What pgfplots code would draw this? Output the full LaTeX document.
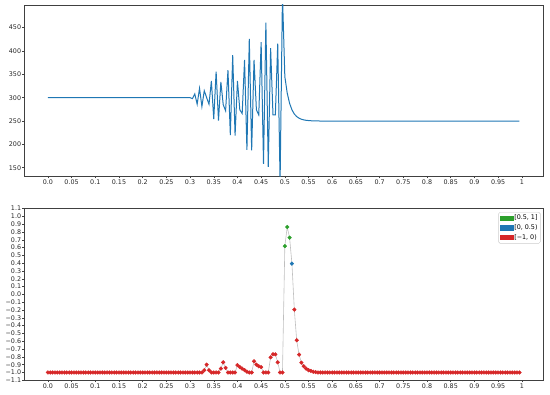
\documentclass[border=0pt]{standalone}
\usepackage{fontspec}
\setmainfont{DejaVu Sans}
\usepackage{pgfplots}
\usepackage{pgfplotstable}
\pgfplotsset{compat=1.18}
\definecolor{tabblue}{HTML}{1F77B4}
\definecolor{tabgreen}{HTML}{2CA02C}
\definecolor{tabred}{HTML}{D62728}
\definecolor{linegray}{HTML}{BFBFBF}
\pgfplotstableread{
x t b c
0.000 300 -1 r
0.005 300 -1 r
0.010 300 -1 r
0.015 300 -1 r
0.020 300 -1 r
0.025 300 -1 r
0.030 300 -1 r
0.035 300 -1 r
0.040 300 -1 r
0.045 300 -1 r
0.050 300 -1 r
0.055 300 -1 r
0.060 300 -1 r
0.065 300 -1 r
0.070 300 -1 r
0.075 300 -1 r
0.080 300 -1 r
0.085 300 -1 r
0.090 300 -1 r
0.095 300 -1 r
0.100 300 -1 r
0.105 300 -1 r
0.110 300 -1 r
0.115 300 -1 r
0.120 300 -1 r
0.125 300 -1 r
0.130 300 -1 r
0.135 300 -1 r
0.140 300 -1 r
0.145 300 -1 r
0.150 300 -1 r
0.155 300 -1 r
0.160 300 -1 r
0.165 300 -1 r
0.170 300 -1 r
0.175 300 -1 r
0.180 300 -1 r
0.185 300 -1 r
0.190 300 -1 r
0.195 300 -1 r
0.200 300 -1 r
0.205 300 -1 r
0.210 300 -1 r
0.215 300 -1 r
0.220 300 -1 r
0.225 300 -1 r
0.230 300 -1 r
0.235 300 -1 r
0.240 300 -1 r
0.245 300 -1 r
0.250 300 -1 r
0.255 300 -1 r
0.260 300 -1 r
0.265 300 -1 r
0.270 300 -1 r
0.275 300 -1 r
0.280 300 -1 r
0.285 300 -1 r
0.290 300 -1 r
0.295 300 -1 r
0.300 300 -1 r
0.305 298 -1 r
0.310 308 -1 r
0.315 286 -1 r
0.320 320 -1 r
0.325 281 -1 r
0.330 315 -0.97 r
0.335 300 -0.90 r
0.340 286 -0.97 r
0.345 336 -1 r
0.350 254 -1 r
0.355 356 -1 r
0.360 251 -1 r
0.365 334 -0.95 r
0.370 285 -0.87 r
0.375 272 -0.94 r
0.380 359 -1 r
0.385 220 -1 r
0.390 391 -1 r
0.395 219 -1 r
0.400 336 -0.905 r
0.405 274 -0.93 r
0.410 266 -0.95 r
0.415 381 -0.97 r
0.420 188 -0.99 r
0.425 426 -1 r
0.430 187 -1 r
0.435 381 -0.857 r
0.440 274 -0.90 r
0.445 263 -0.92 r
0.450 419 -0.93 r
0.455 158 -1 r
0.460 461 -1 r
0.465 152 -1 r
0.470 406 -0.805 r
0.475 263 -0.767 r
0.480 263 -0.767 r
0.485 416 -0.87 r
0.490 120 -1 r
0.495 520 -1 r
0.500 345 0.62 g
0.505 310 0.864 g
0.510 288 0.728 g
0.515 274 0.395 b
0.520 265 -0.194 r
0.525 259.6 -0.587 r
0.530 256 -0.771 r
0.535 253.8 -0.874 r
0.540 252.4 -0.92 r
0.545 251.5 -0.95 r
0.550 251 -0.97 r
0.555 250.6 -0.98 r
0.560 250.4 -0.99 r
0.565 250.2 -0.995 r
0.570 250.1 -1 r
0.575 250 -1 r
0.580 250 -1 r
0.585 250 -1 r
0.590 250 -1 r
0.595 250 -1 r
0.600 250 -1 r
0.605 250 -1 r
0.610 250 -1 r
0.615 250 -1 r
0.620 250 -1 r
0.625 250 -1 r
0.630 250 -1 r
0.635 250 -1 r
0.640 250 -1 r
0.645 250 -1 r
0.650 250 -1 r
0.655 250 -1 r
0.660 250 -1 r
0.665 250 -1 r
0.670 250 -1 r
0.675 250 -1 r
0.680 250 -1 r
0.685 250 -1 r
0.690 250 -1 r
0.695 250 -1 r
0.700 250 -1 r
0.705 250 -1 r
0.710 250 -1 r
0.715 250 -1 r
0.720 250 -1 r
0.725 250 -1 r
0.730 250 -1 r
0.735 250 -1 r
0.740 250 -1 r
0.745 250 -1 r
0.750 250 -1 r
0.755 250 -1 r
0.760 250 -1 r
0.765 250 -1 r
0.770 250 -1 r
0.775 250 -1 r
0.780 250 -1 r
0.785 250 -1 r
0.790 250 -1 r
0.795 250 -1 r
0.800 250 -1 r
0.805 250 -1 r
0.810 250 -1 r
0.815 250 -1 r
0.820 250 -1 r
0.825 250 -1 r
0.830 250 -1 r
0.835 250 -1 r
0.840 250 -1 r
0.845 250 -1 r
0.850 250 -1 r
0.855 250 -1 r
0.860 250 -1 r
0.865 250 -1 r
0.870 250 -1 r
0.875 250 -1 r
0.880 250 -1 r
0.885 250 -1 r
0.890 250 -1 r
0.895 250 -1 r
0.900 250 -1 r
0.905 250 -1 r
0.910 250 -1 r
0.915 250 -1 r
0.920 250 -1 r
0.925 250 -1 r
0.930 250 -1 r
0.935 250 -1 r
0.940 250 -1 r
0.945 250 -1 r
0.950 250 -1 r
0.955 250 -1 r
0.960 250 -1 r
0.965 250 -1 r
0.970 250 -1 r
0.975 250 -1 r
0.980 250 -1 r
0.985 250 -1 r
0.990 250 -1 r
0.995 250 -1 r
}\data
\pgfplotsset{
  base/.style={
    scale only axis,
    width=518.7bp, height=171.7bp,
    xmin=-0.04975, xmax=1.04475,
    axis line style={line width=0.5bp, black!75},
    every tick/.style={black!75, line width=0.5bp},
    major tick length=1.8bp,
    tick align=outside,
    xtick pos=lower, ytick pos=left,
    tick label style={font=\fontsize{6.4}{7.6}\selectfont, black!85, inner sep=1.2bp},
    xtick={0,0.05,0.1,0.15,0.2,0.25,0.3,0.35,0.4,0.45,0.5,0.55,0.6,0.65,0.7,0.75,0.8,0.85,0.9,0.95,1},
    xticklabels={0.0,0.05,0.1,0.15,0.2,0.25,0.3,0.35,0.4,0.45,0.5,0.55,0.6,0.65,0.7,0.75,0.8,0.85,0.9,0.95,1},
  }
}
\begin{document}
\begin{tikzpicture}
\path[use as bounding box] (0,0) rectangle (550bp,395bp);
\begin{axis}[base, at={(24.3bp,218.3bp)}, anchor=south west,
  ymin=130.7, ymax=498.6,
  ytick={150,200,250,300,350,400,450},
  yticklabels={150,200,250,300,350,400,450}]
\addplot[tabblue, line width=1bp, no markers] table[x=x, y=t] {\data};
\end{axis}
\begin{axis}[base, at={(24.3bp,14.7bp)}, anchor=south west,
  ymin=-1.1, ymax=1.1,
  ytick={-1.1,-1.0,-0.9,-0.8,-0.7,-0.6,-0.5,-0.4,-0.3,-0.2,-0.1,0,0.1,0.2,0.3,0.4,0.5,0.6,0.7,0.8,0.9,1.0,1.1},
  yticklabels={−1.1,−1.0,−0.9,−0.8,−0.7,−0.6,−0.5,−0.4,−0.3,−0.2,−0.1,0.0,0.1,0.2,0.3,0.4,0.5,0.6,0.7,0.8,0.9,1.0,1.1},
  legend image code/.code={\fill[#1, sharp corners] (0bp,-2.3bp) rectangle (12.5bp,2.3bp);},
  legend cell align=left,
  legend style={at={(1,1)}, anchor=north east, xshift=-2.5bp, yshift=-3.5bp,
    draw=black!20, rounded corners=1.5bp, fill=white,
    font=\fontsize{6.4}{7.6}\selectfont, inner sep=1.5bp,
    row sep=0.6bp,
    nodes={inner sep=1.3bp}}]
\addplot[linegray, line width=0.6bp, no markers, forget plot] table[x=x, y=b] {\data};
\addplot[scatter, only marks, forget plot,
  scatter src=explicit symbolic,
  scatter/classes={
    r={mark=*, mark size=1.85bp, draw=tabred, fill=tabred},
    g={mark=*, mark size=1.85bp, draw=tabgreen, fill=tabgreen},
    b={mark=*, mark size=1.85bp, draw=tabblue, fill=tabblue}}]
  table[x=x, y=b, meta=c] {\data};
\addlegendimage{tabgreen}
\addlegendentry{[0.5, 1]}
\addlegendimage{tabblue}
\addlegendentry{[0, 0.5)}
\addlegendimage{tabred}
\addlegendentry{[−1, 0)}
\end{axis}
\end{tikzpicture}
\end{document}
